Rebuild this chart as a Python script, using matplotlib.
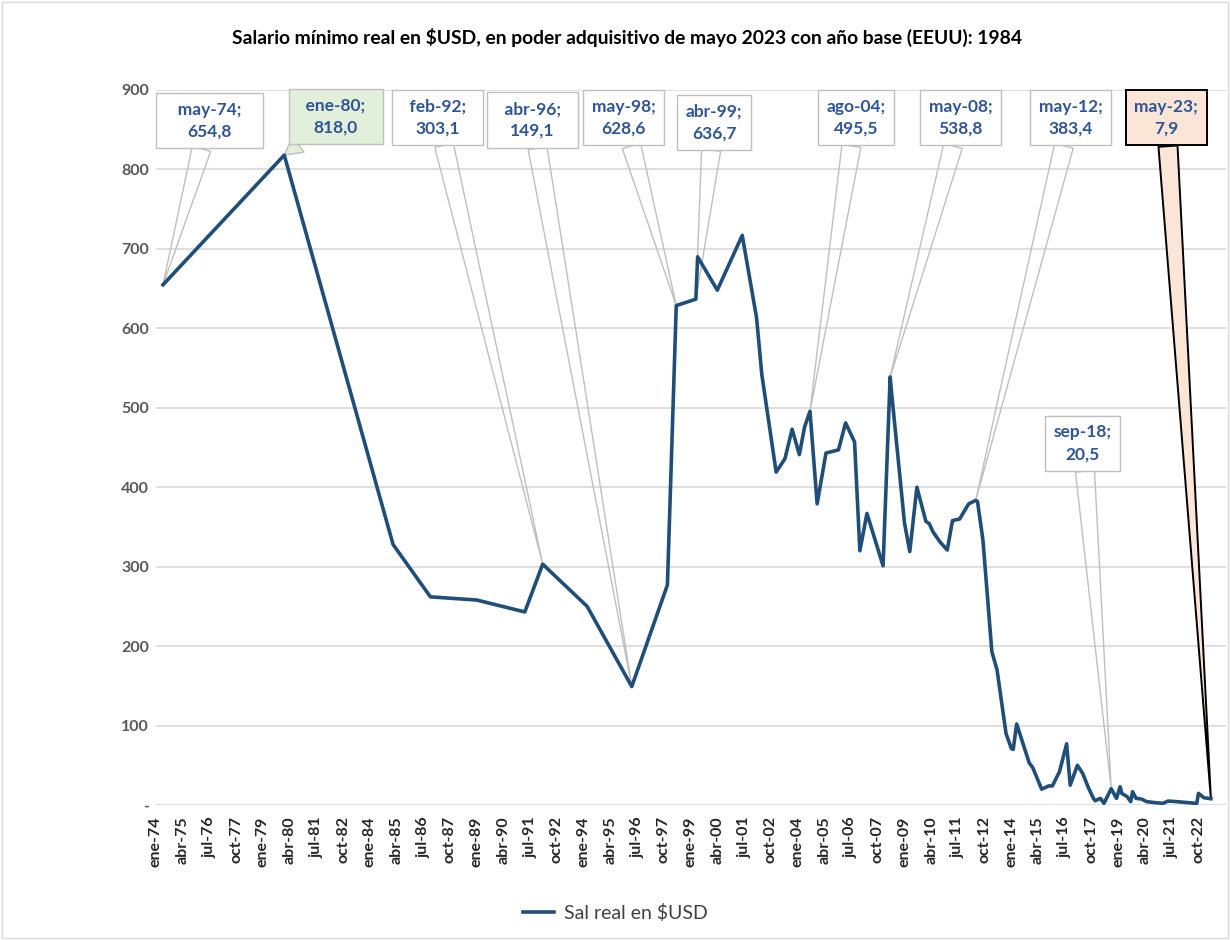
import matplotlib
matplotlib.use("Agg")
import matplotlib.pyplot as plt
from matplotlib.patches import Rectangle
import pandas as pd

# serie
fechas = ["1974-05", "1980-01", "1985-02", "1986-11", "1989-01", "1991-04", "1992-02", "1994-03", "1996-04", "1997-12",
          "1998-05", "1999-04", "1999-05", "2000-04", "2001-06", "2002-02", "2002-05", "2003-01", "2003-06", "2003-10",
          "2004-02", "2004-05", "2004-08", "2004-12", "2005-05", "2005-12", "2006-04", "2006-09", "2006-12", "2007-04",
          "2008-01", "2008-05", "2008-06", "2009-01", "2009-04", "2009-08", "2010-01", "2010-03", "2010-05", "2010-09",
          "2011-01", "2011-04", "2011-08", "2012-01", "2012-05", "2012-06", "2012-09", "2013-02", "2013-05", "2013-10",
          "2014-01", "2014-02", "2014-04", "2014-11", "2015-01", "2015-06", "2015-10", "2015-12", "2016-04", "2016-08",
          "2016-10", "2017-02", "2017-05", "2017-08", "2017-11", "2017-12", "2018-03", "2018-05", "2018-09", "2018-12",
          "2019-02", "2019-03", "2019-06", "2019-08", "2019-09", "2019-11", "2020-02", "2020-05", "2020-10", "2021-02",
          "2021-05", "2021-10", "2022-09", "2022-10", "2023-01", "2023-05"]
valores = [654.8, 818.0, 328, 262, 258, 243, 303.1, 250, 149.1, 277,
           628.6, 636.7, 690, 648, 717, 613, 542, 419, 436, 473,
           441, 476, 495.5, 379, 443, 447, 481, 457, 320, 367,
           301, 538.8, 514, 355, 319, 400, 357, 354, 344, 331,
           321, 358, 360, 379, 383.4, 382, 334, 193, 170, 90,
           71, 70, 102, 53, 47, 20, 24, 24, 42, 77,
           25, 50, 40, 23, 8.4, 5.4, 8.4, 2.1, 20.5, 8.4,
           23, 14.7, 10.5, 4.2, 16.7, 8.4, 7.5, 4.2, 2.9, 2.1,
           5, 4.2, 2, 14.7, 9.2, 7.9]

# puntos con etiqueta, centro de su caja (fracción de ejes) y relleno lateral
anotadas = ["1974-05", "1980-01", "1992-02", "1996-04", "1998-05", "1999-04",
            "2004-08", "2008-05", "2012-05", "2018-09", "2023-05"]
cajas = [(0.050, 0.957), (0.168, 0.963), (0.263, 0.962), (0.352, 0.958), (0.437, 0.961), (0.5215, 0.955),
         (0.654, 0.961), (0.752, 0.961), (0.855, 0.961), (0.866, 0.506), (0.944, 0.961)]
relleno = [3, 2, 2, 2, 0, 0, 0, 0, 0, 0, 0]

meses = ["ene", "feb", "mar", "abr", "may", "jun", "jul", "ago", "sep", "oct", "nov", "dic"]

plt.rcParams["font.family"] = ["Lato", "DejaVu Sans"]

x = pd.to_datetime(fechas, format="%Y-%m")

fig = plt.figure(figsize=(12.3, 9.4), dpi=100)
ax = fig.add_axes([0.1268, 0.1436, 0.87, 0.7607])

ax.plot(x, valores, color="#1F4E79", lw=2.6, zorder=5, label="Sal real en $USD")

ax.set_ylim(0, 900)
ax.set_yticks(range(0, 901, 100))
ax.set_yticklabels(["-"] + [str(v) for v in range(100, 901, 100)])
ax.set_xlim(pd.Timestamp("1974-01-01"), pd.Timestamp("2024-01-15"))

ticks = pd.date_range("1974-01-01", "2022-10-01", freq="15MS")
ax.set_xticks(ticks)
ax.set_xticklabels([f"{meses[t.month - 1]}-{t.year % 100:02d}" for t in ticks], rotation=90)

ax.grid(axis="y", color="#D9D9D9", lw=1.2, zorder=0)
ax.set_axisbelow(True)
for s in ax.spines.values():
    s.set_visible(False)
ax.tick_params(length=0)
ax.tick_params(axis="y", pad=5, labelsize=11.5, labelcolor="#595959")
ax.tick_params(axis="x", pad=8, labelsize=11.5, labelcolor="#262626")
for lab in ax.get_xticklabels() + ax.get_yticklabels():
    lab.set_fontweight("bold")

# callouts
for fecha, (bx, by), n in zip(anotadas, cajas, relleno):
    i = fechas.index(fecha)
    t = x[i]
    sp = " " * n
    texto = f"{sp}{meses[t.month - 1]}-{t.year % 100:02d};{sp}\n{valores[i]:.1f}".replace(".", ",")
    if fecha == "2023-05":
        fc, wfc, ec, lw = "#FBE5D6", "#FBE5D6", "black", 1.4
    elif fecha == "1980-01":
        fc, wfc, ec, lw = "#E2EFDA", "#E2EFDA", "#BFBFBF", 1.0
    else:
        fc, wfc, ec, lw = "white", "none", "#BFBFBF", 1.0
    ax.annotate(texto, xy=(t, valores[i]), xycoords="data",
                xytext=(bx, by), textcoords="axes fraction",
                ha="center", va="center", multialignment="center",
                fontsize=12.5, fontweight="bold", color="#2F5597", linespacing=1.45,
                bbox=dict(boxstyle="square,pad=0.5", fc=fc, ec=ec, lw=lw),
                arrowprops=dict(arrowstyle="wedge,tail_width=1.1", fc=wfc, ec=ec, lw=lw,
                                shrinkA=0, shrinkB=0),
                zorder=4)

fig.text(0.51, 0.9596, "Salario mínimo real en $USD, en poder adquisitivo de mayo 2023 con año base (EEUU): 1984",
         ha="center", va="center", fontsize=13.9, fontweight="bold", color="black")

fig.legend(loc="center", bbox_to_anchor=(0.5, 0.029), frameon=False,
           fontsize=14, handlelength=1.6, handletextpad=0.5, labelcolor="#404040")

fig.patches.append(Rectangle((0.002, 0.002), 0.996, 0.996, transform=fig.transFigure,
                             fill=False, ec="#D9D9D9", lw=1))

fig.savefig("out.png", dpi=100)
